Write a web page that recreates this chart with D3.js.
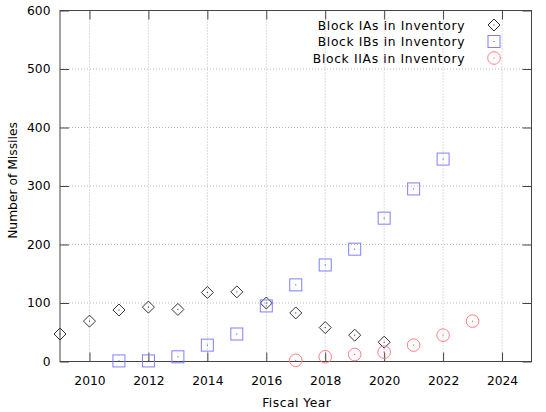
<!DOCTYPE html>
<html><head><meta charset="utf-8">
<script src="https://cdn.jsdelivr.net/npm/d3@7"></script>
<style>body{margin:0;background:#fff}svg{display:block}text{font-family:"DejaVu Sans",sans-serif;font-size:12.3px;fill:#000}</style>
</head><body>
<svg id="c" width="546" height="412"></svg>
<script>
const yearsIA = [2009,2010,2011,2012,2013,2014,2015,2016,2017,2018,2019,2020];
const valuesIA = [47,69,88,93,89,118,119,100,83,58,45,33];
const yearsIB = [2011,2012,2013,2014,2015,2016,2017,2018,2019,2020,2021,2022];
const valuesIB = [1,1,8,28,47,95,131,165,192,245,295,346];
const yearsIIA = [2017,2018,2019,2020,2021,2022,2023];
const valuesIIA = [2,8,12,16,28,45,69];
const xTicks = [2010,2012,2014,2016,2018,2020,2022,2024];
const yTicks = [0,100,200,300,400,500,600];
const legendLabels = ["Block IAs in Inventory","Block IBs in Inventory","Block IIAs in Inventory"];

const L=60,R=531.5,T=10.5,B=361.5;
const svg=d3.select("#c");
const x=d3.scaleLinear().domain([2009,2025]).range([L,R]);
const y=d3.scaleLinear().domain([0,600]).range([B,T]);
const axisCol="#444";

function fitWidth(sel,w){const n=sel.node();const cur=n.getComputedTextLength();if(cur<w){sel.attr("textLength",w).attr("lengthAdjust","spacing");}}

// grid
const g=svg.append("g");
g.selectAll(".gx").data(xTicks).join("line").attr("x1",d=>x(d)).attr("x2",d=>x(d)).attr("y1",B).attr("y2",T)
 .attr("stroke","#bbb").attr("stroke-dasharray","1,2").attr("stroke-width",1);
g.selectAll(".gy").data(yTicks.slice(1,-1)).join("line").attr("y1",d=>y(d)).attr("y2",d=>y(d)).attr("x1",L).attr("x2",R)
 .attr("stroke","#bbb").attr("stroke-dasharray","1,2").attr("stroke-width",1);

// axes with inward ticks
const tl=9;
const ax=d3.axisBottom(x).tickValues(xTicks).tickFormat(d3.format("d")).tickSizeInner(-tl).tickSizeOuter(0).tickPadding(15);
const axB=svg.append("g").attr("transform",`translate(0,${B})`).call(ax);
const axT=svg.append("g").attr("transform",`translate(0,${T})`).call(d3.axisTop(x).tickValues(xTicks).tickSizeInner(-tl).tickSizeOuter(0).tickFormat(""));
const ayL=svg.append("g").attr("transform",`translate(${L},0)`).call(d3.axisLeft(y).tickValues(yTicks).tickSizeInner(-tl).tickSizeOuter(0).tickPadding(18));
const ayR=svg.append("g").attr("transform",`translate(${R},0)`).call(d3.axisRight(y).tickValues(yTicks).tickSizeInner(-tl).tickSizeOuter(0).tickFormat(""));
[axB,axT,ayL,ayR].forEach(a=>{a.select(".domain").remove();a.selectAll("line").attr("stroke",axisCol);a.selectAll("text").attr("font-family","DejaVu Sans").attr("font-size",12.3).attr("fill","#000");});
ayL.selectAll("text").attr("x",-9.5);
axB.selectAll("text").each(function(){fitWidth(d3.select(this),31.3);});
// border
svg.append("rect").attr("x",L).attr("y",T).attr("width",R-L).attr("height",B-T).attr("fill","none").attr("stroke",axisCol).attr("stroke-width",1);

// titles
const xt=svg.append("text").attr("x",296.5).attr("y",407).attr("text-anchor","middle").text("Fiscal Year");
fitWidth(xt,68.7);
const yt=svg.append("text").attr("transform",`translate(16.5,${180.5}) rotate(-90)`).attr("text-anchor","middle").text("Number of Missiles");
fitWidth(yt,111);

const s=6;
function diamond(sel,cx,cy){sel.append("path").attr("d",`M${cx},${cy-s}L${cx+s},${cy}L${cx},${cy+s}L${cx-s},${cy}Z`).attr("fill","none").attr("stroke","#333");
 sel.append("rect").attr("x",cx-0.5).attr("y",cy-0.5).attr("width",1).attr("height",1).attr("fill","#222");}
function square(sel,cx,cy){sel.append("rect").attr("x",cx-s).attr("y",cy-s).attr("width",2*s).attr("height",2*s).attr("fill","none").attr("stroke","#7f7fff");
 sel.append("rect").attr("x",cx-0.5).attr("y",cy-0.5).attr("width",1).attr("height",1).attr("fill","#3333ff");}
function circle(sel,cx,cy){sel.append("circle").attr("cx",cx).attr("cy",cy).attr("r",6.3).attr("fill","none").attr("stroke","#ff7f7f");
 sel.append("rect").attr("x",cx-0.5).attr("y",cy-0.5).attr("width",1).attr("height",1).attr("fill","#ff3333");}

const m=svg.append("g");
yearsIA.forEach((yr,i)=>diamond(m,x(yr),y(valuesIA[i])));
yearsIB.forEach((yr,i)=>square(m,x(yr),y(valuesIB[i])));
yearsIIA.forEach((yr,i)=>circle(m,x(yr),y(valuesIIA[i])));

// legend
const lg=svg.append("g");
const fns=[diamond,square,circle];
const legW=[146.7,146.7,151.7];
legendLabels.forEach((t,i)=>{
  const yy=25+i*16.5;
  const tx=lg.append("text").attr("x",464.5).attr("y",yy+4.5).attr("text-anchor","end").text(t);
  fitWidth(tx,legW[i]);
  fns[i](lg,494,yy);
});
</script>
</body></html>
